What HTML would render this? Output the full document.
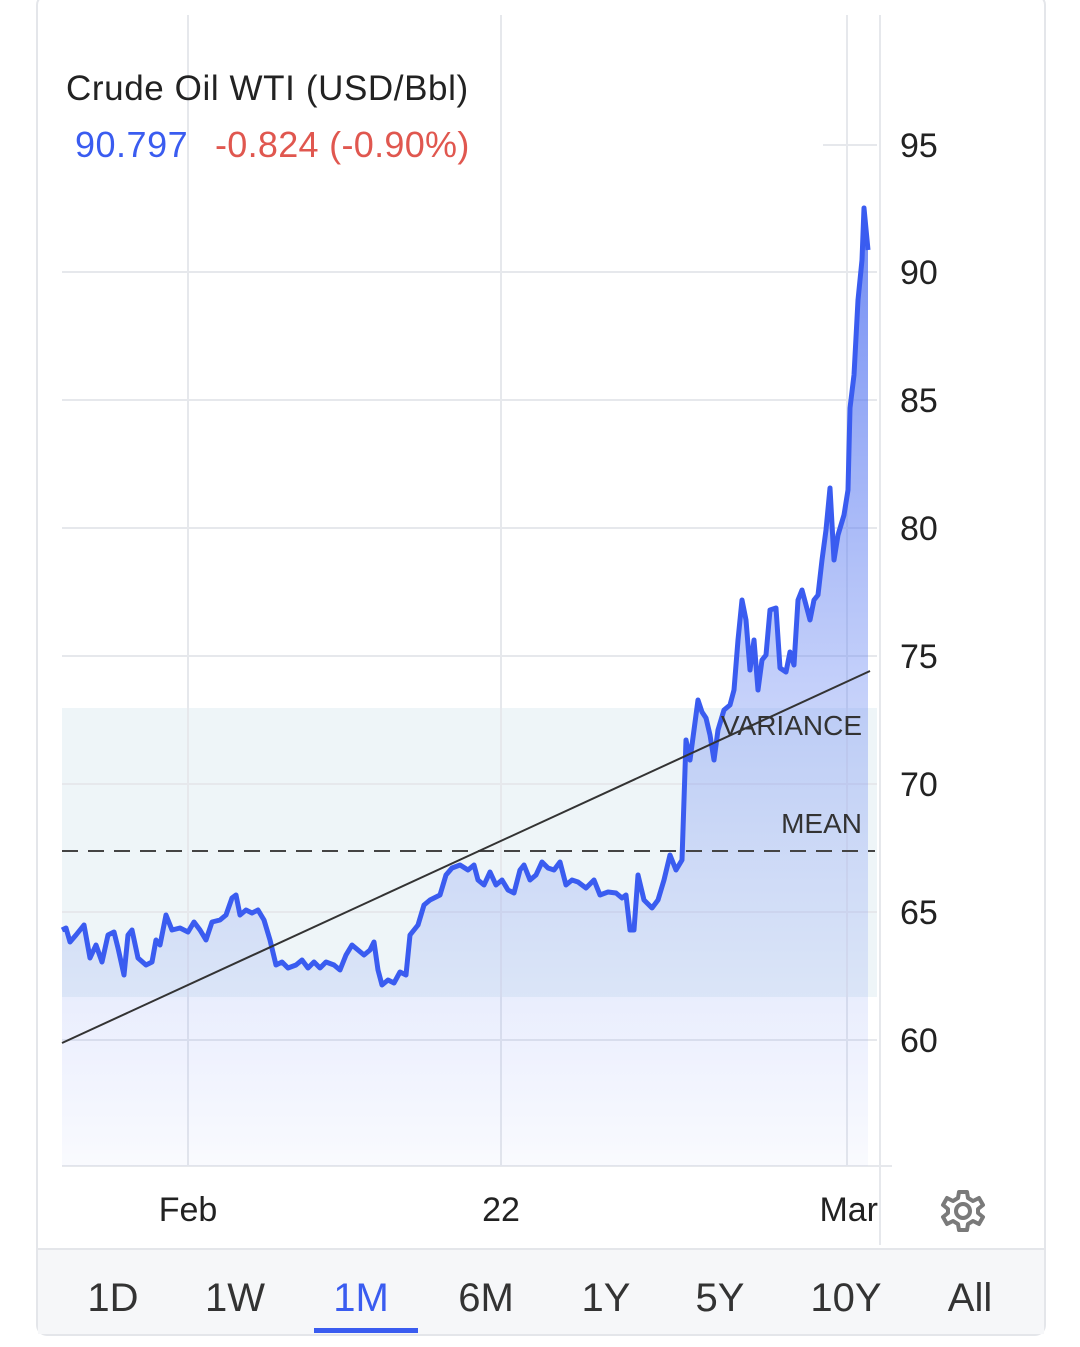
<!DOCTYPE html>
<html><head><meta charset="utf-8"><style>
body{margin:0;background:#fff;font-family:"Liberation Sans",sans-serif;}
</style></head><body>
<svg width="1080" height="1347" xmlns="http://www.w3.org/2000/svg" style="display:block">
<defs>
<linearGradient id="g" gradientUnits="userSpaceOnUse" x1="0" y1="200" x2="0" y2="1166">
<stop offset="0" stop-color="#4a6cf0" stop-opacity="0.8"/>
<stop offset="0.5" stop-color="#6a88f2" stop-opacity="0.4"/>
<stop offset="1" stop-color="#8aa0f5" stop-opacity="0.05"/>
</linearGradient>
</defs>
<rect x="37" y="-5" width="1008" height="1340" rx="10" fill="#fff" stroke="#e4e6ea" stroke-width="2"/>
<rect x="38" y="1250" width="1006" height="84" fill="#f6f7f9"/>
<line x1="38" y1="1249" x2="1044" y2="1249" stroke="#e4e6ea" stroke-width="2"/>
<rect x="62" y="708" width="815" height="289" fill="#eef5f8"/>
<g stroke="#e6e8ec" stroke-width="2">
<line x1="188" y1="15" x2="188" y2="1166"/><line x1="501" y1="15" x2="501" y2="1166"/><line x1="847" y1="15" x2="847" y2="1166"/>
<line x1="880" y1="15" x2="880" y2="1245"/>
<line x1="823" y1="145" x2="877" y2="145"/>
<line x1="62" y1="272" x2="877" y2="272"/><line x1="62" y1="400" x2="877" y2="400"/><line x1="62" y1="528" x2="877" y2="528"/><line x1="62" y1="656" x2="877" y2="656"/><line x1="62" y1="784" x2="877" y2="784"/><line x1="62" y1="912" x2="877" y2="912"/><line x1="62" y1="1040" x2="877" y2="1040"/>
<line x1="62" y1="1166" x2="892" y2="1166"/>
</g>
<polygon fill="url(#g)" points="62,1166 62,930 66,928 70,942 76,935 84,925 90,958 96,945 102,962 108,935 114,932 118,948 124,975 128,935 132,930 138,958 146,965 152,962 156,940 160,945 166,915 172,930 180,928 188,932 194,922 200,930 206,940 212,922 220,920 226,915 232,898 236,895 240,915 246,910 252,913 258,910 264,920 270,940 276,965 282,962 288,968 296,965 302,960 308,968 314,962 320,968 326,962 334,965 340,970 346,955 352,945 358,950 364,955 370,950 374,942 378,970 382,985 388,980 394,983 400,972 406,975 410,935 418,925 424,905 430,900 440,895 446,875 452,868 460,865 468,870 474,865 478,880 484,885 490,872 496,885 502,880 508,890 514,893 520,870 524,865 530,880 536,875 542,862 548,868 554,870 560,862 566,885 572,880 578,882 586,888 594,880 600,895 608,892 616,893 622,898 626,895 630,930 634,930 638,875 644,900 652,908 658,900 664,880 670,855 676,870 682,860 686,740 690,760 694,730 698,700 702,712 706,718 710,735 714,760 718,730 724,710 730,705 734,690 738,640 742,600 746,620 750,670 754,640 758,690 762,660 766,655 770,610 776,608 780,668 786,672 790,652 794,665 798,600 802,590 806,605 810,620 814,600 818,595 822,560 826,530 830,488 834,560 838,535 844,515 848,490 850,408 854,375 858,300 862,260 864,208 868,250 868,1166"/>
<polyline fill="none" stroke="#3a5cf0" stroke-width="5" stroke-linejoin="round" points="62,930 66,928 70,942 76,935 84,925 90,958 96,945 102,962 108,935 114,932 118,948 124,975 128,935 132,930 138,958 146,965 152,962 156,940 160,945 166,915 172,930 180,928 188,932 194,922 200,930 206,940 212,922 220,920 226,915 232,898 236,895 240,915 246,910 252,913 258,910 264,920 270,940 276,965 282,962 288,968 296,965 302,960 308,968 314,962 320,968 326,962 334,965 340,970 346,955 352,945 358,950 364,955 370,950 374,942 378,970 382,985 388,980 394,983 400,972 406,975 410,935 418,925 424,905 430,900 440,895 446,875 452,868 460,865 468,870 474,865 478,880 484,885 490,872 496,885 502,880 508,890 514,893 520,870 524,865 530,880 536,875 542,862 548,868 554,870 560,862 566,885 572,880 578,882 586,888 594,880 600,895 608,892 616,893 622,898 626,895 630,930 634,930 638,875 644,900 652,908 658,900 664,880 670,855 676,870 682,860 686,740 690,760 694,730 698,700 702,712 706,718 710,735 714,760 718,730 724,710 730,705 734,690 738,640 742,600 746,620 750,670 754,640 758,690 762,660 766,655 770,610 776,608 780,668 786,672 790,652 794,665 798,600 802,590 806,605 810,620 814,600 818,595 822,560 826,530 830,488 834,560 838,535 844,515 848,490 850,408 854,375 858,300 862,260 864,208 868,250"/>
<line x1="62" y1="851" x2="875" y2="851" stroke="#444" stroke-width="2" stroke-dasharray="16,10"/>
<line x1="62" y1="1043" x2="870" y2="671" stroke="#333" stroke-width="2"/>
<g font-size="28" fill="#333" text-anchor="end">
<text x="862" y="735">VARIANCE</text><text x="862" y="833">MEAN</text>
</g>
<g font-size="34" fill="#222">
<text x="66" y="100" font-size="35" letter-spacing="0.6">Crude Oil WTI (USD/Bbl)</text>
<text x="75" y="157" fill="#3a5cf0" font-size="36" letter-spacing="0.5">90.797</text>
<text x="215" y="157" fill="#e0574f" font-size="36" letter-spacing="0.3">-0.824 (-0.90%)</text>
<text x="900" y="157">95</text><text x="900" y="284">90</text><text x="900" y="412">85</text><text x="900" y="540">80</text><text x="900" y="668">75</text><text x="900" y="796">70</text><text x="900" y="924">65</text><text x="900" y="1052">60</text>
<text x="188" y="1221" text-anchor="middle">Feb</text><text x="501" y="1221" text-anchor="middle">22</text><text x="878" y="1221" text-anchor="end">Mar</text>
</g>
<g transform="translate(963,1211)" fill="none" stroke="#7a7a7a" stroke-width="4">
<circle r="7"/>
<path d="M-4,-19 L4,-19 L5,-13 L10,-10 L16,-13 L20,-6 L15,-2 L15,2 L20,6 L16,13 L10,10 L5,13 L4,19 L-4,19 L-5,13 L-10,10 L-16,13 L-20,6 L-15,2 L-15,-2 L-20,-6 L-16,-13 L-10,-10 L-5,-13 Z" stroke-linejoin="round"/>
</g>
<g font-size="40" fill="#333" text-anchor="middle">
<text x="113" y="1311">1D</text><text x="235" y="1311">1W</text><text x="361" y="1311" fill="#3a5cf0">1M</text><text x="486" y="1311">6M</text><text x="606" y="1311">1Y</text><text x="720" y="1311">5Y</text><text x="846" y="1311">10Y</text><text x="970" y="1311">All</text>
</g>
<rect x="314" y="1328" width="104" height="5" fill="#3a5cf0"/>
</svg>
</body></html>
